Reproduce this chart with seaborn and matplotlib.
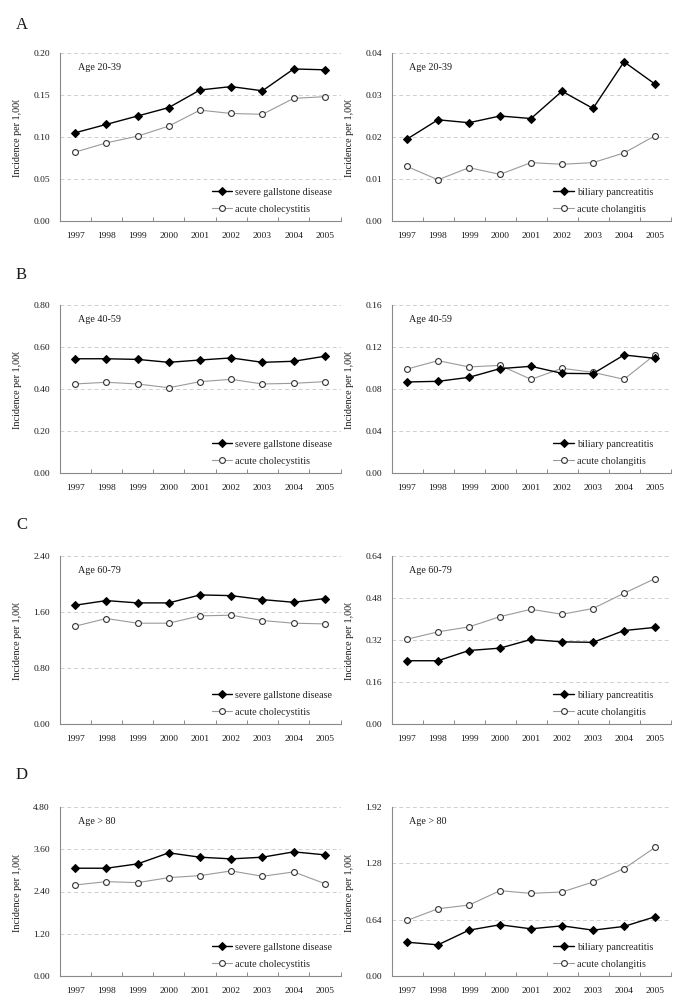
import numpy as np
import pandas as pd
import matplotlib
matplotlib.use("Agg")
import matplotlib.pyplot as plt
import seaborn as sns
from matplotlib.transforms import Bbox, TransformedBbox

years = [1997, 1998, 1999, 2000, 2001, 2002, 2003, 2004, 2005]

# Age 20-39
sgd_20 = [0.105, 0.115, 0.125, 0.135, 0.156, 0.160, 0.155, 0.181, 0.180]
ach_20 = [0.082, 0.093, 0.101, 0.113, 0.132, 0.128, 0.127, 0.146, 0.148]
bp_20 = [0.0195, 0.0241, 0.0234, 0.0250, 0.0244, 0.0309, 0.0268, 0.0379, 0.0326]
acg_20 = [0.0130, 0.0098, 0.0127, 0.0111, 0.0139, 0.0135, 0.0139, 0.0162, 0.0203]
# Age 40-59
sgd_40 = [0.544, 0.544, 0.541, 0.527, 0.538, 0.548, 0.527, 0.532, 0.556]
ach_40 = [0.424, 0.432, 0.424, 0.406, 0.435, 0.446, 0.424, 0.427, 0.435]
bp_40 = [0.0867, 0.0873, 0.0911, 0.0994, 0.1016, 0.0949, 0.0946, 0.1124, 0.1092]
acg_40 = [0.0990, 0.1070, 0.1010, 0.1025, 0.0892, 0.0997, 0.0959, 0.0892, 0.1127]
# Age 60-79
sgd_60 = [1.697, 1.763, 1.730, 1.730, 1.844, 1.834, 1.777, 1.739, 1.792]
ach_60 = [1.397, 1.507, 1.440, 1.440, 1.545, 1.554, 1.478, 1.440, 1.430]
bp_60 = [0.241, 0.241, 0.280, 0.289, 0.322, 0.313, 0.311, 0.356, 0.368]
acg_60 = [0.323, 0.351, 0.370, 0.409, 0.437, 0.418, 0.440, 0.498, 0.554]
# Age > 80
sgd_80 = [3.061, 3.061, 3.184, 3.498, 3.374, 3.327, 3.374, 3.526, 3.441]
ach_80 = [2.585, 2.680, 2.652, 2.794, 2.851, 2.985, 2.832, 2.956, 2.623]
bp_80 = [0.384, 0.354, 0.521, 0.582, 0.536, 0.570, 0.521, 0.563, 0.673]
acg_80 = [0.631, 0.764, 0.806, 0.969, 0.939, 0.954, 1.068, 1.220, 1.460]

row_letters = ["A", "B", "C", "D"]
age_labels = ["Age 20-39", "Age 40-59", "Age 60-79", "Age > 80"]
left_yticks = [[0.00, 0.05, 0.10, 0.15, 0.20],
               [0.00, 0.20, 0.40, 0.60, 0.80],
               [0.00, 0.80, 1.60, 2.40],
               [0.00, 1.20, 2.40, 3.60, 4.80]]
right_yticks = [[0.00, 0.01, 0.02, 0.03, 0.04],
                [0.00, 0.04, 0.08, 0.12, 0.16],
                [0.00, 0.16, 0.32, 0.48, 0.64],
                [0.00, 0.64, 1.28, 1.92]]
left_series = [(sgd_20, ach_20), (sgd_40, ach_40), (sgd_60, ach_60), (sgd_80, ach_80)]
right_series = [(bp_20, acg_20), (bp_40, acg_40), (bp_60, acg_60), (bp_80, acg_80)]
left_names = ["severe gallstone disease", "acute cholecystitis"]
right_names = ["biliary pancreatitis", "acute cholangitis"]
ylabel = "Incidence per 1,000"

sns.set_theme(style="white")
plt.rcParams["font.family"] = ["Liberation Serif", "DejaVu Serif"]

W, H = 685, 1008
fig = plt.figure(figsize=(W / 100, H / 100), dpi=100)

rows_px = [(53, 221), (305, 473), (556, 724), (807, 976)]
cols_px = [(59.5, 340.5), (391.5, 670.5)]
grid_col = "#cfcfcf"
spine_col = "#8a8a8a"
txt_col = "#1a1a1a"


def make_panel(ax, s1, s2, names, yt, age, leg_x, age_x):
    df1 = pd.DataFrame({"year": years, "val": s1})
    df2 = pd.DataFrame({"year": years, "val": s2})
    sns.lineplot(data=df2, x="year", y="val", ax=ax, color="#9a9a9a", lw=0.8,
                 marker="o", markersize=4.2, markerfacecolor="white",
                 markeredgecolor="#333333", markeredgewidth=0.8, label=names[1],
                 zorder=3)
    sns.lineplot(data=df1, x="year", y="val", ax=ax, color="black", lw=1.0,
                 marker="D", markersize=3.6, markerfacecolor="black",
                 markeredgecolor="black", label=names[0], zorder=4)
    ax.set_xlim(years[0] - 0.5, years[-1] + 0.5)
    ax.set_ylim(yt[0], yt[-1])
    ax.set_yticks(yt)
    ax.set_yticklabels([f"{v:.2f}" for v in yt], fontsize=6.8, color=txt_col)
    ax.set_xticks(years)
    ax.set_xticklabels([str(y) for y in years], fontsize=6.8, color=txt_col)
    ax.set_xticks([y - 0.5 for y in years] + [years[-1] + 0.5], minor=True)
    ax.tick_params(axis="x", which="major", length=0, pad=8)
    ax.tick_params(axis="x", which="minor", length=3, direction="in",
                   color=spine_col, width=0.7, bottom=True)
    ax.tick_params(axis="y", which="major", length=0, pad=7)
    for v in yt[1:]:
        ax.axhline(v, color=grid_col, lw=0.7, ls=(0, (4, 3)), zorder=1)
    for s in ["top", "right"]:
        ax.spines[s].set_visible(False)
    for s in ["left", "bottom"]:
        ax.spines[s].set_color(spine_col)
        ax.spines[s].set_linewidth(0.8)
    ax.set_xlabel("")
    lab = ax.set_ylabel(ylabel, fontsize=7.3, color=txt_col, labelpad=8)
    ax.text(age_x, 0.915, age, transform=ax.transAxes, fontsize=7.3,
            color=txt_col, va="center", ha="left")
    h, l = ax.get_legend_handles_labels()
    ax.legend(h[::-1], l[::-1], loc="lower left", bbox_to_anchor=(leg_x, 0.03),
              frameon=False, fontsize=7.3, handlelength=2.0, handletextpad=0.3,
              labelspacing=0.8, borderaxespad=0, borderpad=0.2)
    return lab


for r in range(4):
    top, bot = rows_px[r]
    for c in range(2):
        x0, x1 = cols_px[c]
        ax = fig.add_axes([x0 / W, 1 - bot / H, (x1 - x0) / W, (bot - top) / H])
        if c == 0:
            s1, s2 = left_series[r]
            lab = make_panel(ax, s1, s2, left_names, left_yticks[r], age_labels[r],
                             0.536, 0.065)
        else:
            s1, s2 = right_series[r]
            lab = make_panel(ax, s1, s2, right_names, right_yticks[r], age_labels[r],
                             0.573, 0.061)
        # the original's axis title is cut off at its upper end
        centre = (top + bot) / 2
        clip_top = 1 - (centre - 37) / H
        lab.set_clip_box(TransformedBbox(Bbox([[0, 0], [1, clip_top]]), fig.transFigure))
        lab.set_clip_on(True)
    fig.text(16 / W, 1 - (25 + 250 * r) / H, row_letters[r], fontsize=12,
             color=txt_col, va="center", ha="left")

fig.savefig("out.png", dpi=100)
